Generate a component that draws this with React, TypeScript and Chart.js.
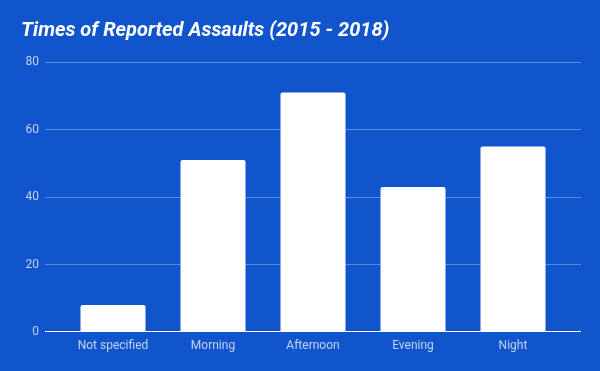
import React, { useEffect, useRef } from "react";
import { Chart, registerables } from "chart.js";

Chart.register(...registerables);

const categories = ["Not specified", "Morning", "Afternoon", "Evening", "Night"];
const assaults = [8, 51, 71, 43, 55];
const yTicks = [0, 20, 40, 60, 80];

const BG = "#1155cc";
const TICK = "#c3d2f1";
const GRID = "#5a88dd";

export default function App() {
  const ref = useRef<HTMLCanvasElement | null>(null);
  useEffect(() => {
    document.body.style.margin = "0";
    const canvas = ref.current!;
    const bgPlugin = {
      id: "bg",
      beforeDraw(chart: any) {
        const { ctx, width, height } = chart;
        ctx.save();
        ctx.fillStyle = BG;
        ctx.fillRect(0, 0, width, height);
        ctx.restore();
      },
      afterDatasetsDraw(chart: any) {
        const { ctx, chartArea } = chart;
        const y0 = chart.scales.y.getPixelForValue(0);
        ctx.save();
        ctx.fillStyle = "#ffffff";
        ctx.fillRect(chartArea.left, Math.floor(y0 - 0.5), chartArea.right - chartArea.left, 1);
        ctx.restore();
      },
    };
    const chart = new Chart(canvas, {
      type: "bar",
      data: {
        datasets: [
          {
            label: "Assaults",
            data: assaults.map((v, i) => ({ x: i, y: v })),
            backgroundColor: "#ffffff",
            borderWidth: 0,
            borderRadius: { topLeft: 2, topRight: 2, bottomLeft: 0, bottomRight: 0 },
            borderSkipped: false,
            barPercentage: 0.65,
            categoryPercentage: 1,
          },
        ],
      },
      options: {
        animation: false,
        responsive: false,
        maintainAspectRatio: false,
        layout: { padding: { left: 21, right: 19, top: 0, bottom: 0 } },
        plugins: {
          legend: { display: false },
          tooltip: { enabled: false },
          title: {
            display: true,
            text: "Times of Reported Assaults (2015 - 2018)",
            align: "start",
            color: "#ffffff",
            font: { family: "Roboto", size: 20, weight: "bold", style: "italic", lineHeight: 1.2 },
            padding: { top: 19, bottom: 19 },
          },
        },
        scales: {
          x: {
            type: "linear",
            offset: false,
            min: -0.68,
            max: 4.68,
            grid: { display: false, drawTicks: false },
            border: { display: false },
            afterBuildTicks: (scale: any) => {
              scale.ticks = categories.map((_, i) => ({ value: i }));
            },
            afterFit: (scale: any) => {
              scale.height = 39;
            },
            ticks: {
              autoSkip: false,
              maxRotation: 0,
              padding: 7,
              color: TICK,
              font: { family: "Roboto", size: 12 },
              callback: (v: any) => categories[Number(v)] ?? "",
            },
          },
          y: {
            min: 0,
            max: 80,
            afterBuildTicks: (scale: any) => {
              scale.ticks = yTicks.map((v) => ({ value: v }));
            },
            afterFit: (scale: any) => {
              scale.width = 24;
            },
            grid: {
              color: (c: any) => (c.tick && c.tick.value === 0 ? "rgba(0,0,0,0)" : GRID),
              lineWidth: 1,
              drawTicks: false,
            },
            border: { display: false },
            ticks: {
              padding: 6,
              color: TICK,
              font: { family: "Roboto", size: 12 },
            },
          },
        },
      },
      plugins: [bgPlugin],
    });
    return () => chart.destroy();
  }, []);
  return (
    <div style={{ position: "relative", width: 600, height: 371 }}>
      <canvas ref={ref} width={600} height={371} style={{ display: "block", width: 600, height: 371 }} />
    </div>
  );
}
